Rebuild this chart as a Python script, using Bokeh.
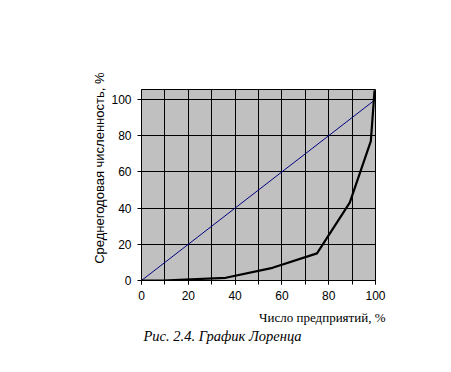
from bokeh.plotting import figure
from bokeh.models import Range1d, FixedTicker, Title
from bokeh.embed import file_html
from bokeh.resources import INLINE

# Lorenz curve data (share of enterprises, share of average annual headcount)
enterprises = [0, 9, 36, 56, 75, 89, 98, 99.6]
headcount = [0, 0, 1.5, 7, 15, 43, 77, 105]
equality_x = [0, 100]
equality_y = [0, 100]
x_ticks = [0, 20, 40, 60, 80, 100]
y_ticks = [0, 20, 40, 60, 80, 100]

p = figure(width=443, height=364, output_backend="svg", toolbar_location=None,
           x_range=Range1d(0, 100), y_range=Range1d(0, 105.5),
           min_border_left=141, min_border_right=68, min_border_top=89, min_border_bottom=84)
p.background_fill_color = "#C0C0C0"
p.border_fill_color = "white"
p.outline_line_color = "black"
p.outline_line_width = 1

p.line(equality_x, equality_y, line_color="#000080", line_width=1)
p.line(enterprises, headcount, line_color="black", line_width=2.2)

for ax in (p.xaxis[0], p.yaxis[0]):
    ax.axis_line_color = "black"
    ax.major_tick_line_color = "black"
    ax.minor_tick_line_color = "black"
    ax.major_tick_in = 0
    ax.major_tick_out = 4
    ax.minor_tick_in = 0
    ax.minor_tick_out = 4
    ax.major_label_text_font = "Liberation Sans"
    ax.major_label_text_font_size = "12px"
    ax.major_label_text_font_style = "normal"
    ax.major_label_text_color = "black"

p.xaxis.ticker = FixedTicker(ticks=x_ticks, minor_ticks=list(range(0, 101, 10)))
p.yaxis.ticker = FixedTicker(ticks=y_ticks, minor_ticks=[])
p.yaxis.minor_tick_line_color = None
p.xaxis.major_label_standoff = 6
p.yaxis.major_label_standoff = 6

p.xgrid.grid_line_color = "black"
p.xgrid.grid_line_width = 1
p.xgrid.minor_grid_line_color = "black"
p.xgrid.minor_grid_line_width = 1
p.ygrid.grid_line_color = "black"
p.ygrid.grid_line_width = 1

p.add_layout(Title(text="Среднегодовая численность, %", align="right", offset=-17,
                   text_font="Liberation Sans", text_font_size="13px",
                   text_font_style="normal", text_color="black", standoff=4), "left")
p.add_layout(Title(text="Число предприятий, %", align="right", offset=-10,
                   text_font="Liberation Serif", text_font_size="13px",
                   text_font_style="normal", text_color="black", standoff=10), "below")
p.add_layout(Title(text="Рис. 2.4. График Лоренца", align="left", offset=2,
                   text_font="Liberation Serif", text_font_size="14.5px",
                   text_font_style="italic", text_color="black", standoff=-7), "below")

open("out.html", "w").write(file_html(p, INLINE))
